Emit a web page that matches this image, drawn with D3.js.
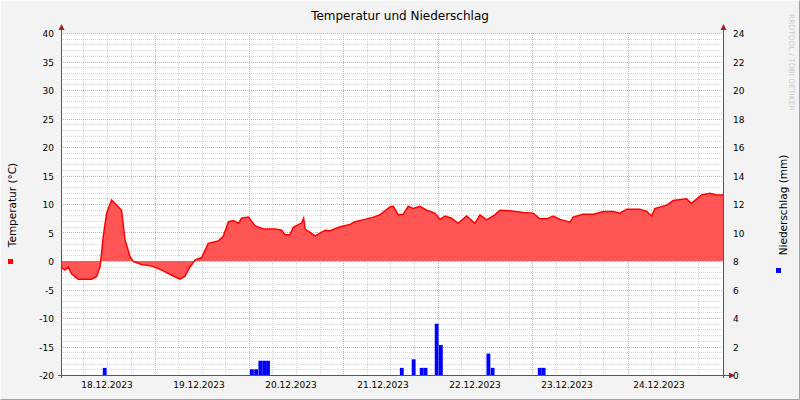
<!DOCTYPE html>
<html><head><meta charset="utf-8">
<script src="https://cdn.jsdelivr.net/npm/d3@7"></script>
<style>body{margin:0;background:#f3f3f3}</style></head>
<body><svg id="c" width="800" height="400"></svg>
<script>
// hours since 17.12.2023 00:00
const tempHours=[12,13,13.9,14.8,16.5,20,21.3,22.2,23,23.9,25.2,26.1,27.8,28.7,30,30.9,33,35.7,38.3,40.9,43,44.3,45.7,47,48.7,50.4,53,54.3,55.7,57,58.3,59.1,60.9,62.6,64.8,67.8,69.6,70.4,71.7,72.6,74.8,75.3,75.7,78.3,80.9,82.2,84.8,87.4,88.7,91.3,93.5,95.2,97.8,98.7,100,101.3,102.6,103.9,105.6,107.4,109.5,110.9,112.2,113.9,115.6,117.8,120,121.3,123,125.2,126.5,129.1,132.6,135.2,136.9,138.7,140.4,142.2,144.8,145.6,148.2,150.9,153.5,156.1,157.8,159.6,163,164.8,166.1,166.9,170,171.7,175.2,176.5,179.1,181.3,183,184.7];
const tempValues=[-1.1,-1.6,-1.1,-2.3,-3.2,-3.2,-2.7,-1,4.2,8.4,10.7,10.1,8.9,3.7,0.8,-0.1,-0.6,-0.9,-1.6,-2.5,-3.2,-2.7,-1,0.2,0.6,3.1,3.5,4.3,6.9,7.1,6.6,7.5,7.7,6.2,5.6,5.6,5.4,4.6,4.6,5.9,6.7,7.5,5.6,4.4,5.4,5.3,6,6.4,6.9,7.3,7.7,8.1,9.5,9.6,8.1,8.2,9.6,9.2,9.6,8.9,8.4,7.3,7.9,7.5,6.6,7.9,6.6,8.1,7.2,8.1,8.9,8.8,8.5,8.4,7.4,7.4,7.9,7.3,6.8,7.7,8.2,8.2,8.7,8.7,8.4,9.1,9.1,8.7,7.9,9.2,9.8,10.6,10.9,10.1,11.6,11.9,11.6,11.6];
const rainHours=[22.9,61.3,62.4,63.5,64.5,65.5,100.4,103.5,105.6,106.6,109.5,110.6,123,124.1,136.4,137.4];
const rainValues=[0.5,0.4,0.4,1.0,1.0,1.0,0.5,1.1,0.5,0.5,3.6,2.1,1.5,0.5,0.5,0.5];
const dayLabels=["18.12.2023","19.12.2023","20.12.2023","21.12.2023","22.12.2023","23.12.2023","24.12.2023"];
const dayLabelHours=[24,48,72,96,120,144,168];
const majorGridHours=[36.4,61,85.6,110.3,135,159.8];
const tempTicks=d3.range(-20,41,5);
const rainTicks=d3.range(0,25,2);

const svg=d3.select("#c");
const L=61,R=723,T=33,B=375;
const x=d3.scaleLinear().domain([12,184.7]).range([L,R]);
const y=d3.scaleLinear().domain([-20,40]).range([B,T]);
const y2=d3.scaleLinear().domain([0,24]).range([B,T]);
const font="DejaVu Sans, sans-serif";

svg.append("rect").attr("width",800).attr("height",400).attr("fill","#f3f3f3");
svg.append("rect").attr("x",L).attr("y",T).attr("width",R-L).attr("height",B-T).attr("fill","#fff");
svg.append("path").attr("d","M0.5,399.5V0.5H799.5").attr("stroke","#fcfcfc").attr("fill","none");
svg.append("path").attr("d","M0.5,399.5H799.5V0.5").attr("stroke","#a0a0a0").attr("fill","none");

const g=svg.append("g");
d3.range(-20,41,1).filter(v=>v%5).forEach(v=>g.append("line").attr("x1",L).attr("x2",R).attr("y1",Math.round(y(v))+.5).attr("y2",Math.round(y(v))+.5).attr("stroke","#d4d4d4").attr("stroke-dasharray","1,1"));
const minor=[];majorGridHours.concat([11.7]).forEach(h=>{for(let k=1;k<4;k++)minor.push(h+k*24.65/4);});
minor.filter(h=>h>12&&h<184.7).forEach(h=>g.append("line").attr("x1",Math.round(x(h))+.5).attr("x2",Math.round(x(h))+.5).attr("y1",T).attr("y2",B).attr("stroke","#d4d4d4").attr("stroke-dasharray","1,1"));
tempTicks.forEach(v=>g.append("line").attr("x1",L).attr("x2",R).attr("y1",Math.round(y(v))+.5).attr("y2",Math.round(y(v))+.5).attr("stroke","#e8a0a0").attr("stroke-dasharray","1,1"));
majorGridHours.forEach(h=>g.append("line").attr("x1",Math.round(x(h))+.5).attr("x2",Math.round(x(h))+.5).attr("y1",T).attr("y2",B).attr("stroke","#e8a0a0").attr("stroke-dasharray","1,1"));

const data=tempHours.map((h,i)=>[h,tempValues[i]]);
svg.append("path").datum(data).attr("fill","#ff5555")
 .attr("d",d3.area().x(d=>x(d[0])).y0(y(0)).y1(d=>y(d[1])));
svg.append("path").datum(data).attr("fill","none").attr("stroke","#ff0000").attr("stroke-width",1.5)
 .attr("d",d3.line().x(d=>x(d[0])).y(d=>y(d[1])));

rainHours.forEach((h,i)=>svg.append("rect").attr("x",x(h)).attr("width",x(h+1)-x(h)).attr("y",y2(rainValues[i])).attr("height",B-y2(rainValues[i])).attr("fill","#0000ff"));

const ax=svg.append("g").attr("stroke","#555");
ax.append("line").attr("x1",L+.5).attr("x2",L+.5).attr("y1",T-6).attr("y2",B+3);
ax.append("line").attr("x1",R+.5).attr("x2",R+.5).attr("y1",T-6).attr("y2",B+3);
ax.append("line").attr("x1",L-3).attr("x2",R+6).attr("y1",B+.5).attr("y2",B+.5);
svg.append("path").attr("d",`M${L-2.5},${T-3}L${L+3.5},${T-3}L${L+.5},${T-9}Z`).attr("fill","#a02020");
svg.append("path").attr("d",`M${R-2.5},${T-3}L${R+3.5},${T-3}L${R+.5},${T-9}Z`).attr("fill","#a02020");
svg.append("path").attr("d",`M${R+6},${B-2.5}L${R+6},${B+3.5}L${R+12},${B+.5}Z`).attr("fill","#a02020");

tempTicks.forEach(v=>svg.append("text").attr("x",L-7).attr("y",y(v)+4).attr("text-anchor","end").attr("font-family",font).attr("font-size",9).text(v));
rainTicks.forEach(v=>svg.append("text").attr("x",R+10).attr("y",y2(v)+4).attr("font-family",font).attr("font-size",9).text(v));
dayLabels.forEach((t,i)=>svg.append("text").attr("x",x(dayLabelHours[i])).attr("y",B+13).attr("text-anchor","middle").attr("font-family",font).attr("font-size",9).text(t));

svg.append("text").attr("x",400).attr("y",20).attr("text-anchor","middle").attr("font-family",font).attr("font-size",12).text("Temperatur und Niederschlag");
svg.append("text").attr("transform","translate(16,205) rotate(-90)").attr("text-anchor","middle").attr("font-family",font).attr("font-size",10.5).text("Temperatur (°C)");
svg.append("rect").attr("x",8).attr("y",259).attr("width",5).attr("height",5).attr("fill","#ff0000");
svg.append("text").attr("transform","translate(787,205) rotate(-90)").attr("text-anchor","middle").attr("font-family",font).attr("font-size",10.5).text("Niederschlag (mm)");
svg.append("rect").attr("x",776).attr("y",268).attr("width",5).attr("height",5).attr("fill","#0000ff");
svg.append("text").attr("transform","translate(789,14) rotate(90)").attr("font-family",font).attr("font-size",7.5).attr("fill","#ccc").text("RRDTOOL / TOBI OETIKER");
</script></body></html>
